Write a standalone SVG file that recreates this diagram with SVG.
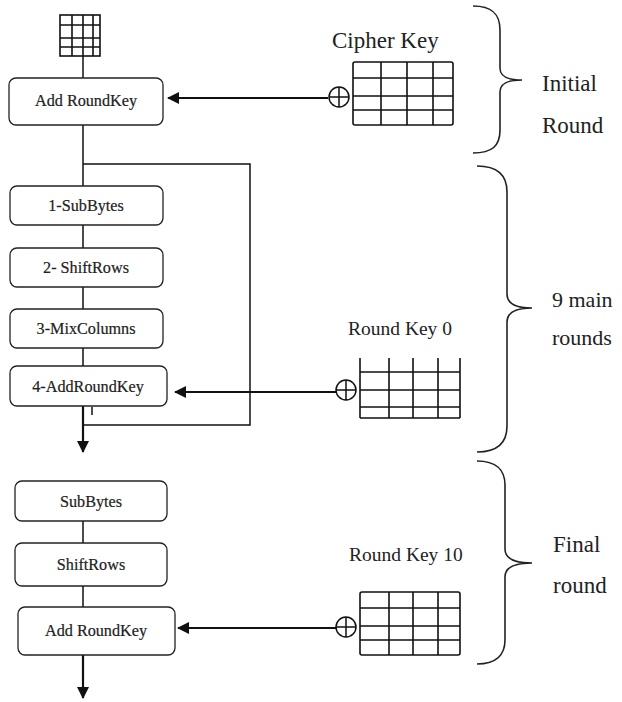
<svg xmlns="http://www.w3.org/2000/svg" width="622" height="702" viewBox="0 0 622 702">
<style>
.box{fill:#fff;stroke:#222;stroke-width:1.3}
.bt{font-family:'Liberation Serif','Times New Roman','DejaVu Serif',serif;font-size:16.2px;fill:#222;stroke:#222;stroke-width:0.2;text-anchor:middle}
.lbl{font-family:'Liberation Serif','Times New Roman','DejaVu Serif',serif;fill:#222}
.ln{stroke:#111;stroke-width:1.5;fill:none}
.ar{stroke:#111;stroke-width:2.2;fill:none}
.g{stroke:#111;stroke-width:1.6;fill:none}
.br{stroke:#222;stroke-width:1.6;fill:none}
</style>
<defs>
<marker id="ah" viewBox="0 0 12 12" refX="11" refY="6" markerWidth="12" markerHeight="12" markerUnits="userSpaceOnUse" orient="auto">
<path d="M0,0 L12,6 L0,12 Z" fill="#111"/>
</marker>
<g id="xor"><circle cx="0" cy="0" r="10" fill="#fff" stroke="#111" stroke-width="1.5"/><path d="M-10,0 H10 M0,-10 V10" stroke="#111" stroke-width="1.5"/></g>
</defs>
<rect width="622" height="702" fill="#fff"/>

<g id="connectors">
<path class="ln" d="M83,56 V78"/>
<path class="ln" d="M83,125 V186"/>
<path class="ln" d="M83,164 H250 V425 H83"/>
<path class="ln" d="M83,225 V248 M83,287 V309 M83,348 V366"/>
<path class="ln" d="M92,407 V415"/>
<path class="ar" d="M83,406 V452" marker-end="url(#ah)"/>
<path class="ln" d="M83,521 V543 M83,586 V607"/>
<path class="ar" d="M83,655 V698" marker-end="url(#ah)"/>
<path class="ar" d="M328,98 H168" marker-end="url(#ah)"/>
<path class="ar" d="M336,392 H175" marker-end="url(#ah)"/>
<path class="ar" d="M336,628 H178" marker-end="url(#ah)"/>
</g>

<g id="state">
<rect x="60" y="15" width="40" height="41" class="g"/>
<path class="g" d="M72,15 V56 M83,15 V56 M93,15 V56 M60,25 H100 M60,38 H100 M60,47 H100"/>
</g>

<g id="add-roundkey-initial"><rect class="box" x="9" y="78" width="154" height="47" rx="7"/><text class="bt" x="86" y="106">Add RoundKey</text></g>
<g id="subbytes-1"><rect class="box" x="10" y="186" width="153" height="39" rx="7"/><text class="bt" x="86" y="211">1-SubBytes</text></g>
<g id="shiftrows-2"><rect class="box" x="10" y="248" width="153" height="39" rx="7"/><text class="bt" x="86" y="273">2- ShiftRows</text></g>
<g id="mixcolumns-3"><rect class="box" x="10" y="309" width="153" height="39" rx="7"/><text class="bt" x="86" y="334">3-MixColumns</text></g>
<g id="addroundkey-4"><rect class="box" x="10" y="366" width="157" height="40" rx="7"/><text class="bt" x="88" y="392">4-AddRoundKey</text></g>
<g id="subbytes-final"><rect class="box" x="15" y="481" width="152" height="40" rx="7"/><text class="bt" x="91" y="507">SubBytes</text></g>
<g id="shiftrows-final"><rect class="box" x="15" y="543" width="152" height="43" rx="7"/><text class="bt" x="91" y="570">ShiftRows</text></g>
<g id="add-roundkey-final"><rect class="box" x="18" y="607" width="157" height="48" rx="7"/><text class="bt" x="96" y="636">Add RoundKey</text></g>

<g id="cipher-key">
<text class="lbl" x="332" y="48" font-size="23">Cipher Key</text>
<rect x="353" y="62" width="100" height="63" rx="2" class="g"/>
<path class="g" d="M381,62 V125 M407,62 V125 M433,62 V125 M353,78 H453 M353,96 H453 M353,110 H453"/>
<use href="#xor" x="339" y="97"/>
</g>

<g id="round-key-0">
<text class="lbl" x="348" y="335" font-size="19.5">Round Key 0</text>
<path class="g" d="M360,358 V418 M389,358 V418 M413,358 V418 M438,358 V418 M460,358 V418 M360,372 H460 M360,390 H460 M360,407 H460 M360,418 H460"/>
<use href="#xor" x="346" y="390"/>
</g>

<g id="round-key-10">
<text class="lbl" x="349" y="561" font-size="19.5">Round Key 10</text>
<rect x="360" y="592" width="100" height="63" rx="2" class="g"/>
<path class="g" d="M389,592 V655 M413,592 V655 M438,592 V655 M360,608 H460 M360,626 H460 M360,640 H460"/>
<use href="#xor" x="346" y="627"/>
</g>

<g id="brace-initial">
<path class="br" d="M473,6 C492,6 500,14 500,30 L500,68 C500,76 506,80 522,80 C506,80 500,84 500,92 L500,130 C500,146 492,153 473,153"/>
<text class="lbl" x="542" y="91" font-size="23">Initial</text>
<text class="lbl" x="542" y="133" font-size="23">Round</text>
</g>
<g id="brace-main">
<path class="br" d="M477,166 C498,166 507,176 507,192 L507,294 C507,302 514,308 532,308 C514,308 507,314 507,322 L507,426 C507,442 498,452 477,452"/>
<text class="lbl" x="552" y="307" font-size="22">9 main</text>
<text class="lbl" x="552" y="345" font-size="22">rounds</text>
</g>
<g id="brace-final">
<path class="br" d="M477,461 C496,461 505,470 505,485 L505,549 C505,557 512,563 532,563 C512,563 505,569 505,577 L505,640 C505,655 496,664 477,664"/>
<text class="lbl" x="553" y="552" font-size="23">Final</text>
<text class="lbl" x="553" y="593" font-size="23">round</text>
</g>
</svg>
